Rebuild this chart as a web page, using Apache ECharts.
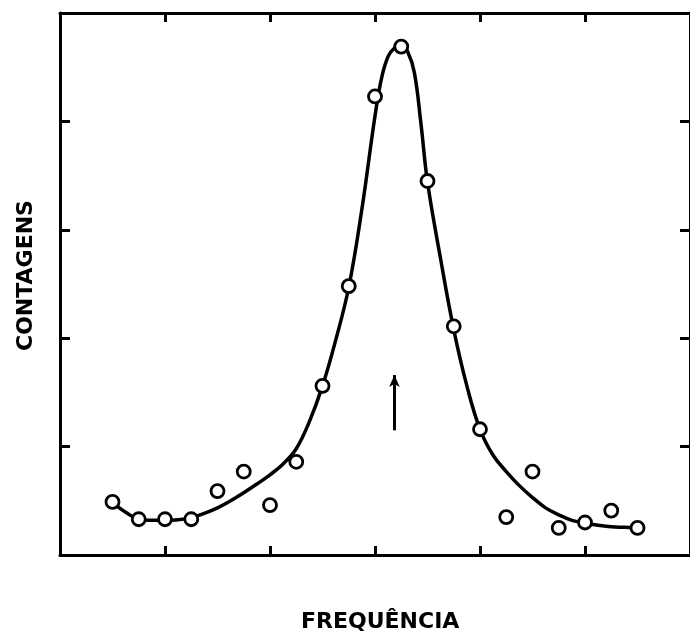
<!DOCTYPE html>
<html>
<head>
<meta charset="utf-8">
<script src="https://cdn.jsdelivr.net/npm/echarts@6/dist/echarts.min.js"></script>
<style>
html,body{margin:0;padding:0;background:#fff;}
#c{width:690px;height:637px;}
</style>
</head>
<body>
<div id="c"></div>
<script>
// Measured points (frequency in quarter-tick units, counts in tenths of a tick)
const pointX = [2, 3, 4, 5, 6, 7, 8, 9, 10, 11, 12, 13, 14, 15, 16, 17, 18, 19, 20, 21, 22];
const pointY = [4.9, 3.3, 3.3, 3.3, 5.9, 7.7, 4.6, 8.6, 15.6, 24.8, 42.3, 46.9, 34.5, 21.1, 11.6, 3.5, 7.7, 2.5, 3.0, 4.1, 2.5];

// Fitted curve
const curveX = [2.0, 2.5, 3.0, 3.5, 4.0, 4.5, 5.0, 5.5, 6.0, 6.5, 7.0, 7.5, 8.0, 8.5, 9.0, 9.5, 10.0, 10.5, 11.0, 11.5, 12.0, 12.25, 12.5, 12.75, 13.0, 13.25, 13.5, 13.75, 14.0, 14.5, 15.0, 15.5, 16.0, 16.5, 17.0, 17.5, 18.0, 18.5, 19.0, 19.5, 20.0, 20.5, 21.0, 21.5, 22.0];
const curveY = [4.8, 3.95, 3.3, 3.2, 3.2, 3.25, 3.45, 3.85, 4.35, 5.0, 5.75, 6.55, 7.4, 8.4, 9.8, 12.3, 15.6, 19.8, 24.7, 31.9, 40.5, 44.0, 46.0, 46.8, 47.1, 46.4, 44.5, 39.8, 34.4, 27.3, 20.8, 15.6, 11.6, 9.2, 7.7, 6.4, 5.3, 4.35, 3.7, 3.2, 2.95, 2.75, 2.6, 2.55, 2.5];

// Arrow annotation (data coordinates)
const arrowX = 12.74;
const arrowFromY = 11.5;
const arrowToY = 16.6;

const xTitle = 'FREQUÊNCIA';
const yTitle = 'CONTAGENS';

const points = pointX.map((x, i) => [x, pointY[i]]);
const curve = curveX.map((x, i) => [x, curveY[i]]);

const chart = echarts.init(document.getElementById('c'), null, {renderer: 'canvas'});

function xAxisOf(pos) {
  return {
    type: 'value', min: 0, max: 24, interval: 4, position: pos,
    axisLine: {show: true, onZero: false, lineStyle: {color: '#000', width: 3}},
    axisTick: {show: true, inside: true, length: 9, lineStyle: {color: '#000', width: 3}},
    axisLabel: {show: false},
    splitLine: {show: false}
  };
}
function yAxisOf(pos) {
  return {
    type: 'value', min: 0, max: 50, interval: 10, position: pos,
    axisLine: {show: true, onZero: false, lineStyle: {color: '#000', width: 3}},
    axisTick: {show: true, inside: true, length: 10, lineStyle: {color: '#000', width: 3}},
    axisLabel: {show: false},
    splitLine: {show: false}
  };
}

chart.setOption({
  animation: false,
  backgroundColor: '#fff',
  grid: {left: 60, top: 13, width: 636, height: 542},
  xAxis: [xAxisOf('bottom'), xAxisOf('top')],
  yAxis: [yAxisOf('left'), yAxisOf('right')],
  graphic: [
    {
      type: 'text', left: 301, top: 611,
      style: {text: xTitle, fill: '#000', font: 'bold 22px "DejaVu Sans"'}
    },
    {
      type: 'text', x: 26, y: 351, rotation: Math.PI / 2,
      style: {text: yTitle, fill: '#000', font: 'bold 22px "DejaVu Sans"', textAlign: 'left', textVerticalAlign: 'middle'}
    }
  ],
  series: [
    {
      type: 'line', data: curve, smooth: 0.4, symbol: 'none',
      lineStyle: {color: '#000', width: 3.5},
      z: 2
    },
    {
      type: 'scatter', data: points, symbol: 'circle', symbolSize: 13,
      itemStyle: {color: '#fff', borderColor: '#000', borderWidth: 2.8, opacity: 1},
      z: 3,
      markLine: {
        silent: true,
        symbol: ['none', 'arrow'],
        symbolSize: [8, 12],
        label: {show: false},
        lineStyle: {color: '#000', width: 3, type: 'solid'},
        data: [[{coord: [arrowX, arrowFromY]}, {coord: [arrowX, arrowToY]}]]
      }
    }
  ]
});
</script>
</body>
</html>
